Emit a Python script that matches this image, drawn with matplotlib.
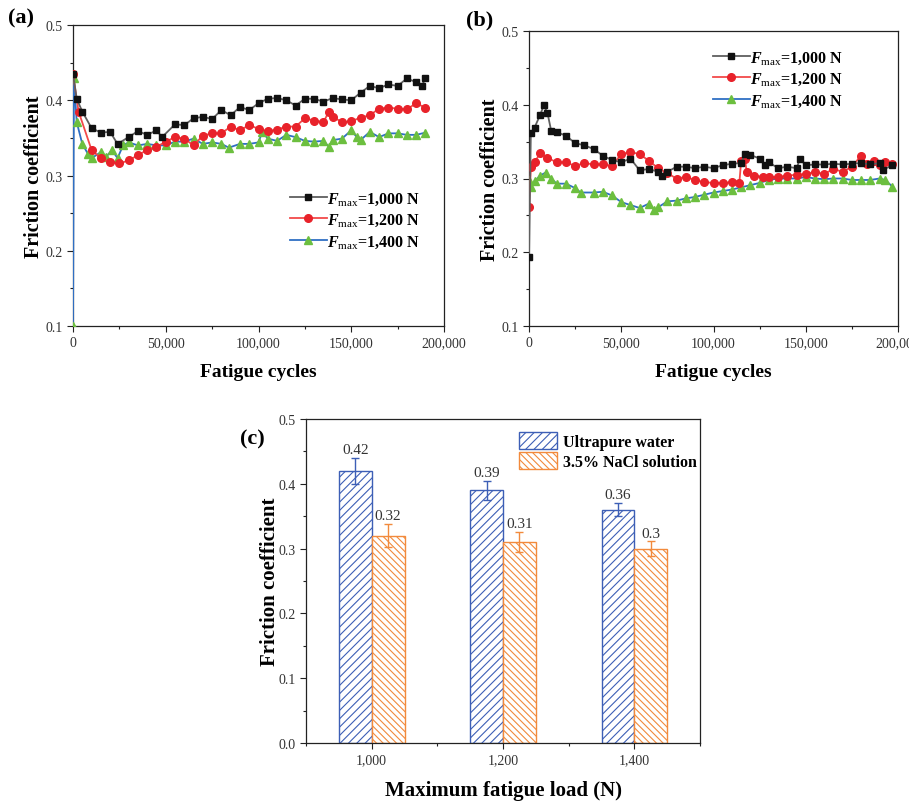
import matplotlib
matplotlib.use("Agg")
import matplotlib.pyplot as plt
from matplotlib.ticker import MultipleLocator, FuncFormatter, FixedLocator

plt.rcParams['font.family'] = ['Liberation Serif', 'DejaVu Serif']
plt.rcParams['mathtext.fontset'] = 'custom'
plt.rcParams['mathtext.rm'] = 'Liberation Serif'
plt.rcParams['mathtext.it'] = 'Liberation Serif:italic:bold'
plt.rcParams['mathtext.bf'] = 'Liberation Serif:bold'
plt.rcParams['hatch.linewidth'] = 0.8

# ---------------- data: panel (a) ultrapure water ----------------
a_x_1000 = [0, 2000, 5000, 10000, 15000, 20000, 24000, 30000, 35000, 40000, 45000, 48000,
            55000, 60000, 65000, 70000, 75000, 80000, 85000, 90000, 95000, 100000, 105000,
            110000, 115000, 120000, 125000, 130000, 135000, 140000, 145000, 150000, 155000,
            160000, 165000, 170000, 175000, 180000, 185000, 188000, 190000]
a_y_1000 = [0.435, 0.402, 0.385, 0.363, 0.357, 0.358, 0.342, 0.351, 0.359, 0.354, 0.360, 0.351,
            0.368, 0.367, 0.376, 0.378, 0.375, 0.387, 0.380, 0.391, 0.387, 0.396, 0.402,
            0.403, 0.400, 0.393, 0.402, 0.402, 0.398, 0.403, 0.401, 0.400, 0.410,
            0.419, 0.416, 0.421, 0.419, 0.429, 0.424, 0.419, 0.429]

a_x_1200 = [0, 3000, 10000, 15000, 20000, 25000, 30000, 35000, 40000, 45000, 50000, 55000,
            60000, 65000, 70000, 75000, 80000, 85000, 90000, 95000, 100000, 105000, 110000,
            115000, 120000, 125000, 130000, 135000, 138000, 140000, 145000, 150000, 155000,
            160000, 165000, 170000, 175000, 180000, 185000, 190000]
a_y_1200 = [0.435, 0.385, 0.334, 0.323, 0.318, 0.316, 0.320, 0.327, 0.334, 0.338, 0.345, 0.351,
            0.349, 0.340, 0.353, 0.356, 0.356, 0.365, 0.360, 0.367, 0.362, 0.359, 0.361,
            0.365, 0.365, 0.376, 0.373, 0.371, 0.385, 0.378, 0.371, 0.372, 0.377,
            0.380, 0.389, 0.390, 0.389, 0.388, 0.396, 0.390]

a_x_1400 = [0, 500, 2000, 5000, 8000, 10000, 15000, 18000, 21000, 24000, 27000, 30000, 35000,
            40000, 45000, 50000, 55000, 60000, 65000, 70000, 75000, 80000, 84000, 90000,
            95000, 100000, 102000, 105000, 110000, 115000, 120000, 125000, 130000, 135000,
            138000, 140000, 145000, 150000, 153000, 155000, 160000, 165000, 170000, 175000,
            180000, 185000, 190000]
a_y_1400 = [0.100, 0.430, 0.371, 0.342, 0.329, 0.323, 0.331, 0.325, 0.334, 0.323, 0.340, 0.344, 0.340,
            0.342, 0.340, 0.340, 0.345, 0.345, 0.349, 0.342, 0.344, 0.342, 0.337, 0.342,
            0.342, 0.344, 0.358, 0.349, 0.346, 0.354, 0.351, 0.346, 0.345, 0.346,
            0.338, 0.347, 0.349, 0.360, 0.351, 0.347, 0.358, 0.351, 0.356, 0.356,
            0.354, 0.354, 0.357]

# ---------------- data: panel (b) 3.5% NaCl ----------------
b_x_1000 = [0, 1000, 3000, 6000, 8000, 10000, 12000, 15000, 20000, 25000, 30000, 35000, 40000,
            45000, 50000, 55000, 60000, 65000, 70000, 72000, 75000, 80000, 85000, 90000, 95000,
            100000, 105000, 110000, 115000, 117000, 120000, 125000, 128000, 130000, 135000,
            140000, 145000, 147000, 150000, 155000, 160000, 165000, 170000, 175000, 180000,
            185000, 190000, 192000, 197000]
b_y_1000 = [0.193, 0.362, 0.369, 0.386, 0.399, 0.389, 0.365, 0.363, 0.358, 0.348, 0.345, 0.340, 0.331,
            0.325, 0.322, 0.327, 0.311, 0.313, 0.309, 0.304, 0.309, 0.316, 0.316, 0.314, 0.316,
            0.314, 0.318, 0.320, 0.321, 0.333, 0.332, 0.327, 0.318, 0.322, 0.314,
            0.316, 0.314, 0.327, 0.318, 0.319, 0.319, 0.320, 0.319, 0.320, 0.321,
            0.319, 0.321, 0.312, 0.318]

b_x_1200 = [0, 1000, 3000, 6000, 10000, 15000, 20000, 25000, 30000, 35000, 40000, 45000, 50000,
            55000, 60000, 65000, 70000, 75000, 80000, 85000, 90000, 95000, 100000, 105000,
            110000, 114000, 115000, 117000, 118000, 122000, 127000, 130000, 135000, 140000,
            145000, 150000, 155000, 160000, 165000, 170000, 175000, 180000, 183000, 187000,
            190000, 193000, 197000]
b_y_1200 = [0.261, 0.315, 0.322, 0.334, 0.328, 0.322, 0.322, 0.317, 0.321, 0.319, 0.319, 0.317, 0.333,
            0.336, 0.333, 0.324, 0.314, 0.307, 0.300, 0.302, 0.298, 0.295, 0.294, 0.294,
            0.295, 0.294, 0.324, 0.327, 0.309, 0.304, 0.302, 0.302, 0.302, 0.304,
            0.305, 0.306, 0.309, 0.306, 0.313, 0.309, 0.316, 0.331, 0.320, 0.324,
            0.318, 0.322, 0.320]

b_x_1400 = [0, 1000, 3000, 6000, 9000, 12000, 15000, 20000, 25000, 28000, 35000, 40000, 45000,
            50000, 55000, 60000, 65000, 68000, 70000, 75000, 80000, 85000, 90000, 95000,
            100000, 105000, 110000, 115000, 120000, 125000, 130000, 135000, 140000, 145000,
            150000, 155000, 160000, 165000, 170000, 175000, 180000, 185000, 190000, 193000,
            197000]
b_y_1400 = [0.298, 0.289, 0.296, 0.304, 0.308, 0.300, 0.293, 0.293, 0.287, 0.281, 0.281, 0.282, 0.277,
            0.268, 0.264, 0.260, 0.266, 0.257, 0.261, 0.269, 0.270, 0.273, 0.275, 0.278,
            0.281, 0.283, 0.285, 0.288, 0.291, 0.294, 0.298, 0.300, 0.300, 0.300,
            0.302, 0.300, 0.299, 0.300, 0.300, 0.298, 0.298, 0.298, 0.300, 0.298,
            0.289]

series_labels = [r"$\mathit{F}_{\mathrm{max}}$=1,000 N",
                 r"$\mathit{F}_{\mathrm{max}}$=1,200 N",
                 r"$\mathit{F}_{\mathrm{max}}$=1,400 N"]

# ---------------- data: panel (c) ----------------
loads = ["1,000", "1,200", "1,400"]
water_mean = [0.42, 0.39, 0.36]
water_err = [0.020, 0.015, 0.010]
nacl_mean = [0.32, 0.31, 0.30]
nacl_err = [0.018, 0.015, 0.011]
bar_labels_water = ["0.42", "0.39", "0.36"]
bar_labels_nacl = ["0.32", "0.31", "0.3"]

# ---------------- styling ----------------
line_cols = ['#5f5f5f', '#f24a4a', '#2f6fc4']
mk_cols = ['#111111', '#e8222a', '#6cbf3f']
markers = ['s', 'o', '^']
msizes = [5.0, 5.5, 6.0]
tick_col = '#333333'

fig = plt.figure(figsize=(9.09, 8.03), dpi=100)
ax_a = fig.add_axes([73/909, 1-327/803, 371/909, 301/803])
ax_b = fig.add_axes([529/909, 1-327/803, 369/909, 295/803])
ax_c = fig.add_axes([306/909, 1-744/803, 394/909, 324/803])

fmt_thousands = FuncFormatter(lambda v, p: "{:,}".format(int(round(v))))


def style_axes(ax):
    ax.tick_params(which='both', direction='out', top=False, right=False,
                   labelsize=10, colors='#222222', labelcolor=tick_col)
    ax.tick_params(which='major', length=4, width=0.8)
    ax.tick_params(which='minor', length=2, width=0.8)
    for s in ax.spines.values():
        s.set_linewidth(0.9)
        s.set_color('#222222')


def line_panel(ax, data, legend_anchor):
    for i, (xs, ys) in enumerate(data):
        ax.plot(xs, ys, color=line_cols[i], lw=1.3, marker=markers[i], ms=msizes[i],
                mfc=mk_cols[i], mec=mk_cols[i], label=series_labels[i], zorder=3 - i * 0.1)
    ax.set_xlim(0, 200000)
    ax.set_ylim(0.1, 0.5)
    ax.xaxis.set_major_locator(MultipleLocator(50000))
    ax.xaxis.set_minor_locator(MultipleLocator(25000))
    ax.yaxis.set_major_locator(MultipleLocator(0.1))
    ax.yaxis.set_minor_locator(MultipleLocator(0.05))
    ax.xaxis.set_major_formatter(fmt_thousands)
    ax.yaxis.set_major_formatter(FuncFormatter(lambda v, p: "{:.1f}".format(v)))
    style_axes(ax)
    ax.set_xlabel("Fatigue cycles", fontsize=14, fontweight='bold', labelpad=10)
    ax.set_ylabel("Friction coefficient", fontsize=14.5, fontweight='bold', labelpad=1)
    leg = ax.legend(loc='upper left', bbox_to_anchor=legend_anchor, frameon=False,
                    prop={'weight': 'bold', 'size': 11.5}, handlelength=2.3,
                    handletextpad=0.0, labelspacing=0.3, borderpad=0.0,
                    borderaxespad=0.0)
    return leg


line_panel(ax_a, [(a_x_1000, a_y_1000), (a_x_1200, a_y_1200), (a_x_1400, a_y_1400)],
           ((290 - 73) / 371, (327 - 191) / 301))
line_panel(ax_b, [(b_x_1000, b_y_1000), (b_x_1200, b_y_1200), (b_x_1400, b_y_1400)],
           ((713 - 529) / 369, (327 - 50) / 295))

# ---------------- panel (c) ----------------
pos = list(range(len(loads)))
w = 0.25
blue = '#3d5fb6'
orange = '#f28a3c'
bw = ax_c.bar([p - w / 2 for p in pos], water_mean, width=w, facecolor='white',
              edgecolor=blue, hatch='////', lw=1.0, label='Ultrapure water')
bn = ax_c.bar([p + w / 2 for p in pos], nacl_mean, width=w, facecolor='white',
              edgecolor=orange, hatch='\\\\\\\\\\', lw=1.0, label='3.5% NaCl solution')
ax_c.errorbar([p - w / 2 for p in pos], water_mean, yerr=water_err, fmt='none',
              ecolor=blue, elinewidth=1.0, capsize=3, capthick=1.0)
ax_c.errorbar([p + w / 2 for p in pos], nacl_mean, yerr=nacl_err, fmt='none',
              ecolor=orange, elinewidth=1.0, capsize=3, capthick=1.0)
for p, m, e, t in zip(pos, water_mean, water_err, bar_labels_water):
    ax_c.text(p - w / 2, m + e + 0.003, t, ha='center', va='bottom', fontsize=11, color=tick_col)
for p, m, e, t in zip(pos, nacl_mean, nacl_err, bar_labels_nacl):
    ax_c.text(p + w / 2, m + e + 0.003, t, ha='center', va='bottom', fontsize=11, color=tick_col)

ax_c.set_xlim(-0.5, 2.5)
ax_c.set_ylim(0, 0.5)
ax_c.xaxis.set_major_locator(FixedLocator(pos))
ax_c.set_xticklabels(loads)
ax_c.xaxis.set_minor_locator(FixedLocator([-0.5, 0.5, 1.5, 2.5]))
ax_c.yaxis.set_major_locator(MultipleLocator(0.1))
ax_c.yaxis.set_minor_locator(MultipleLocator(0.05))
ax_c.yaxis.set_major_formatter(FuncFormatter(lambda v, p: "{:.1f}".format(v)))
style_axes(ax_c)
ax_c.set_xlabel("Maximum fatigue load (N)", fontsize=15, fontweight='bold', labelpad=10)
ax_c.set_ylabel("Friction coefficient", fontsize=15, fontweight='bold', labelpad=-1)
ax_c.legend(loc='upper left', bbox_to_anchor=((519 - 306) / 394, (744 - 433) / 324),
            frameon=False, prop={'weight': 'bold', 'size': 11.5}, handlelength=2.4,
            handleheight=1.25, handletextpad=0.35, labelspacing=0.15, borderpad=0.0,
            borderaxespad=0.0)

# panel labels
fig.text(8 / 909, 1 - 18 / 803, "(a)", fontsize=16, fontweight='bold', va='center', ha='left')
fig.text(466 / 909, 1 - 20 / 803, "(b)", fontsize=16, fontweight='bold', va='center', ha='left')
fig.text(240 / 909, 1 - 439 / 803, "(c)", fontsize=16, fontweight='bold', va='center', ha='left')

fig.savefig("out.png", dpi=100)
